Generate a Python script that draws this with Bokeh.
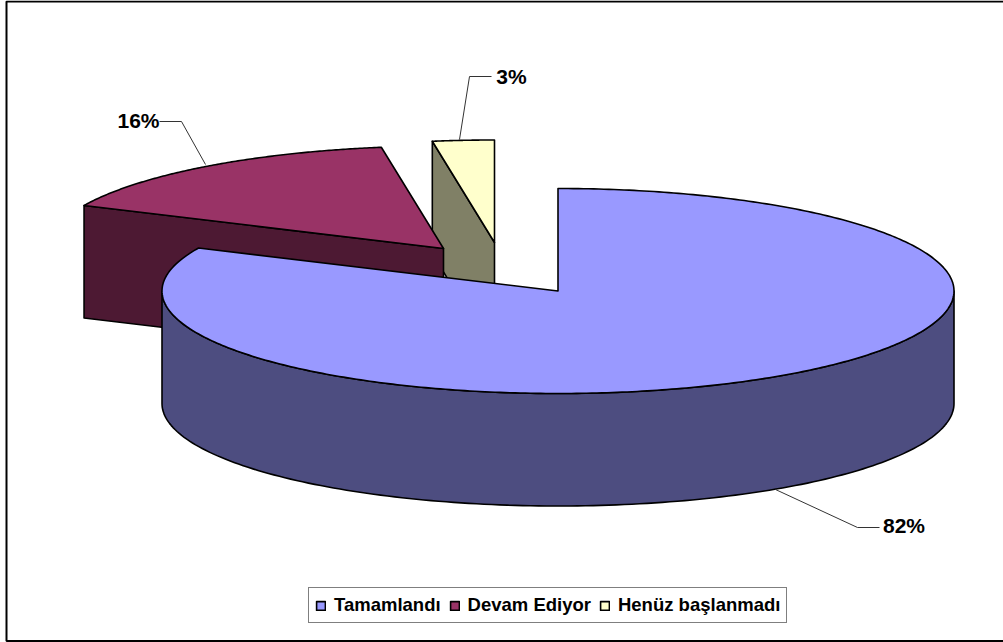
import numpy as np
from bokeh.embed import file_html
from bokeh.resources import INLINE
from bokeh.plotting import figure
from bokeh.models import Range1d, Legend, LegendItem
from bokeh.core.properties import value

# ---- data ----
categories = ["Tamamlandı", "Devam Ediyor", "Henüz başlanmadı"]
shares = [81.9, 15.6, 2.51]
top_colors = ["#9999FF", "#993366", "#FFFFCC"]
side_colors = ["#4D4D80", "#4D1933", "#808066"]

# ---- layout (screen pixels) ----
W, H = 1003, 642
RX, RY, DEPTH = 396, 102.5, 112.5
APEX = [(557.5, 290.5), (443, 248), (494, 242)]   # exploded slice apexes
LABEL_POS = [(903.5, 525), (138, 119.5), (511, 75.5)]
LEADERS = [[(775, 489), (857, 527), (879, 527)],
           [(159, 121), (181, 121), (205, 164)],
           [(491, 76), (469, 76), (459, 139)]]

p = figure(width=W, height=H, output_backend="svg", toolbar_location=None,
           x_range=Range1d(0, W), y_range=Range1d(H, 0),
           min_border=0,
           background_fill_color="white", border_fill_color="white")
p.axis.visible = False
p.grid.visible = False
p.outline_line_color = None


def arc(cx, cy, a0, a1, dz=0.0, n=160):
    t = np.radians(np.linspace(a0, a1, n))
    return cx + RX * np.sin(t), cy - RY * np.cos(t) + dz


# slice angle limits, clockwise from 12 o'clock
edges = np.concatenate([[0], np.cumsum(shares)]) / sum(shares) * 360
LINE = dict(line_color="black", line_width=1.6, line_join="round")

renderers = [None, None, None]
# painter's order: back slices first
for i in [2, 1]:
    cx, cy = APEX[i]
    ex, ey = arc(cx, cy, edges[i], edges[i + 1], n=2)
    fx = [ex[0], cx, cx, ex[0]]
    fy = [ey[0], cy, cy + DEPTH, ey[0] + DEPTH]
    p.patch(fx, fy, fill_color=side_colors[i], **LINE)
    ax, ay = arc(cx, cy, edges[i], edges[i + 1])
    renderers[i] = p.patch(np.r_[cx, ax], np.r_[cy, ay], fill_color=top_colors[i], **LINE)

# main slice: front wall then top
cx, cy = APEX[0]
wx, wy = arc(cx, cy, 90, 270)
bx, by = arc(cx, cy, 270, 90, dz=DEPTH)
p.patch(np.r_[wx, bx], np.r_[wy, by], fill_color=side_colors[0], **LINE)
ax, ay = arc(cx, cy, edges[0], edges[1], n=400)
renderers[0] = p.patch(np.r_[cx, ax], np.r_[cy, ay], fill_color=top_colors[0], **LINE)

# leader lines
for pts in LEADERS:
    xs, ys = zip(*pts)
    p.line(list(xs), list(ys), line_color="#333333", line_width=1)

# percent labels
for v, (x, y) in zip(shares, LABEL_POS):
    p.text([x], [y], text=[f"{round(v)}%"], text_font=value("Liberation Sans"),
           text_font_style="bold", text_font_size="21px", text_color="black",
           text_align="center", text_baseline="middle")

# outer frame, open on the right where it leaves the page
p.line([W + 5, 6, 6, W + 5], [1, 1, H - 1.5, H - 1.5], line_color="black", line_width=2)

legend = Legend(items=[LegendItem(label=c, renderers=[r]) for c, r in zip(categories, renderers)],
                orientation="horizontal", location=(308, H - 623),
                glyph_width=11, glyph_height=11, label_standoff=8, spacing=8,
                padding=6, margin=0, label_text_font="Liberation Sans",
                label_text_font_style="bold", label_text_font_size="18.5px",
                label_text_color="black", border_line_color="black", border_line_width=1.5,
                background_fill_color="white", background_fill_alpha=1.0)
p.add_layout(legend)

open("out.html", "w").write(file_html(p, INLINE))
